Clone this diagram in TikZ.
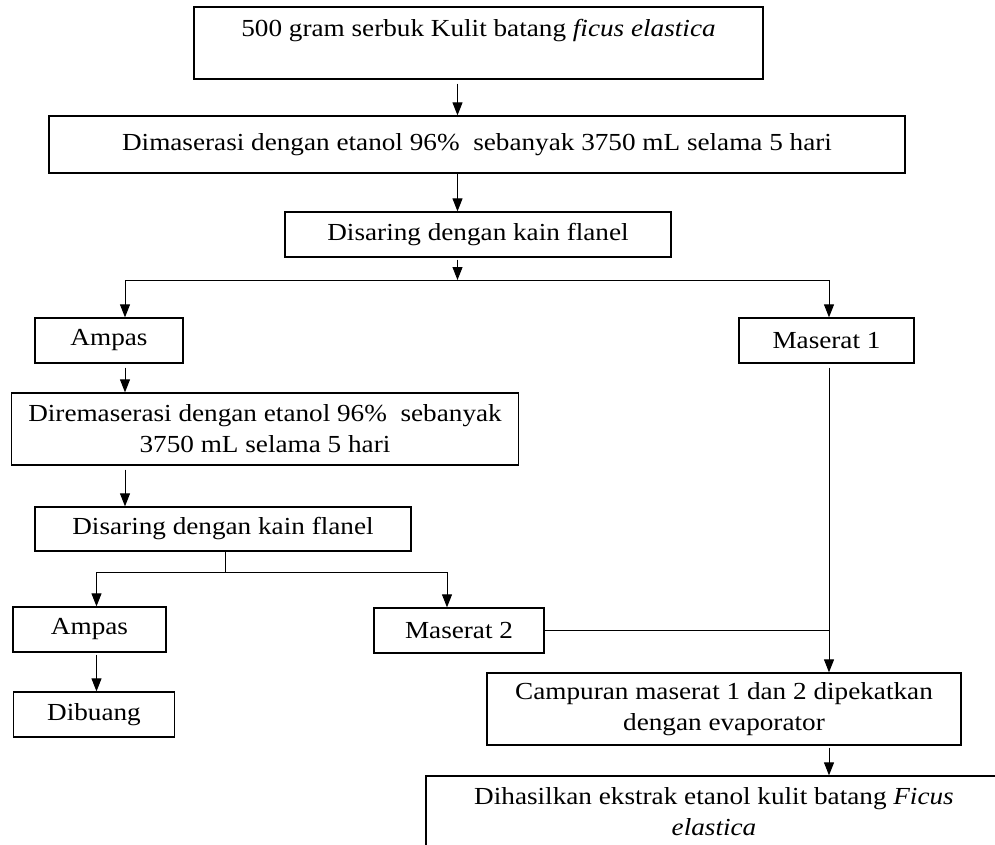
\documentclass[tikz,border=0pt]{standalone}
\usepackage{fontspec}
\setmainfont{Liberation Serif}[FakeStretch=1.11]
\usepackage{tikz}
\usetikzlibrary{arrows.meta,positioning,calc}
\tikzset{
  pbox/.style={draw=black,line width=1.3pt,inner sep=0pt,align=center,
               font=\fontsize{24.5}{31}\selectfont},
  ar/.style={-{Triangle[length=13pt,width=10pt]},line width=1pt},
  ln/.style={line width=1pt},
}

\begin{document}
\begin{tikzpicture}[x=1pt,y=-1pt]
    \clip (0,0) rectangle (995,844);
    % main column
    \node[pbox,minimum width=569pt,minimum height=72pt] (raw) at (478.5,43)
      {500 gram serbuk Kulit batang \textit{ficus elastica}\\ \mbox{}};
    \node[pbox,minimum width=856pt,minimum height=57pt] (mac) at (477,144.5)
      {Dimaserasi dengan etanol 96\%\ \ sebanyak 3750 mL selama 5 hari};
    \node[pbox,minimum width=386pt,minimum height=45pt] (flt) at (478,234.5)
      {Disaring dengan kain flanel};
    % first split
    \node[pbox,minimum width=148pt,minimum height=45pt] (amp1) at (109,340.5)
      {Ampas};
    \node[pbox,minimum width=175pt,minimum height=45pt] (mas1) at (826.5,340.5)
      {Maserat 1};
    \node[pbox,minimum width=507pt,minimum height=72pt] (rem) at (265,429)
      {Diremaserasi dengan etanol 96\%\ \ sebanyak\\ 3750 mL selama 5 hari};
    \node[pbox,minimum width=376pt,minimum height=44pt] (flt2) at (223,529)
      {Disaring dengan kain flanel};
    % second split
    \node[pbox,minimum width=153pt,minimum height=45pt] (amp2) at (89.5,629.5)
      {Ampas};
    \node[pbox,minimum width=170pt,minimum height=45pt] (mas2) at (459,630.5)
      {Maserat 2};
    \node[pbox,minimum width=161pt,minimum height=45pt] (dib) at (94,714.5)
      {Dibuang};
    \node[pbox,minimum width=474pt,minimum height=72pt] (camp) at (724,709)
      {Campuran maserat 1 dan 2 dipekatkan\\ dengan evaporator};
    \node[pbox,minimum width=576pt,minimum height=72pt] (ext) at (714,812)
      {Dihasilkan ekstrak etanol kulit batang \textit{Ficus}\\ \textit{elastica}};
    % junction points
    \coordinate (sp) at (457.5,280);
    \coordinate (la) at (125,280);
    \coordinate (ra) at (829,280);
    \coordinate (j2) at (225,572);
    \coordinate (lb) at (96.5,572);
    \coordinate (rb) at (447,572);
    \coordinate (mg) at (829,630);
    % connectors
    \draw[ar,shorten <=4pt] (raw.south -| sp) -- (mac.north -| sp);
    \draw[ar] (mac.south -| sp) -- (flt.north -| sp);
    \draw[ar,shorten <=2pt] (flt.south -| sp) -- (sp);
    \draw[ln] (la) -- (ra);
    \draw[ar] (la) -- (amp1.north -| la);
    \draw[ar] (ra) -- (mas1.north -| ra);
    \draw[ar,shorten <=4pt] (amp1.south -| la) -- (rem.north -| la);
    \draw[ar,shorten <=4pt] (rem.south -| la) -- (flt2.north -| la);
    \draw[ln] (flt2.south -| j2) -- (j2);
    \draw[ln] (lb) -- (rb);
    \draw[ar] (lb) -- (amp2.north -| lb);
    \draw[ar] (rb) -- (mas2.north -| rb);
    \draw[ar,shorten <=2pt] (amp2.south -| lb) -- (dib.north -| lb);
    \draw[ln,shorten <=4pt] (mas1.south -| mg) -- (mg);
    \draw[ln] (mas2.east |- mg) -- (mg);
    \draw[ar] (mg) -- (camp.north -| mg);
    \draw[ar,shorten <=2pt] (camp.south -| mg) -- (ext.north -| mg);
\end{tikzpicture}
\end{document}
